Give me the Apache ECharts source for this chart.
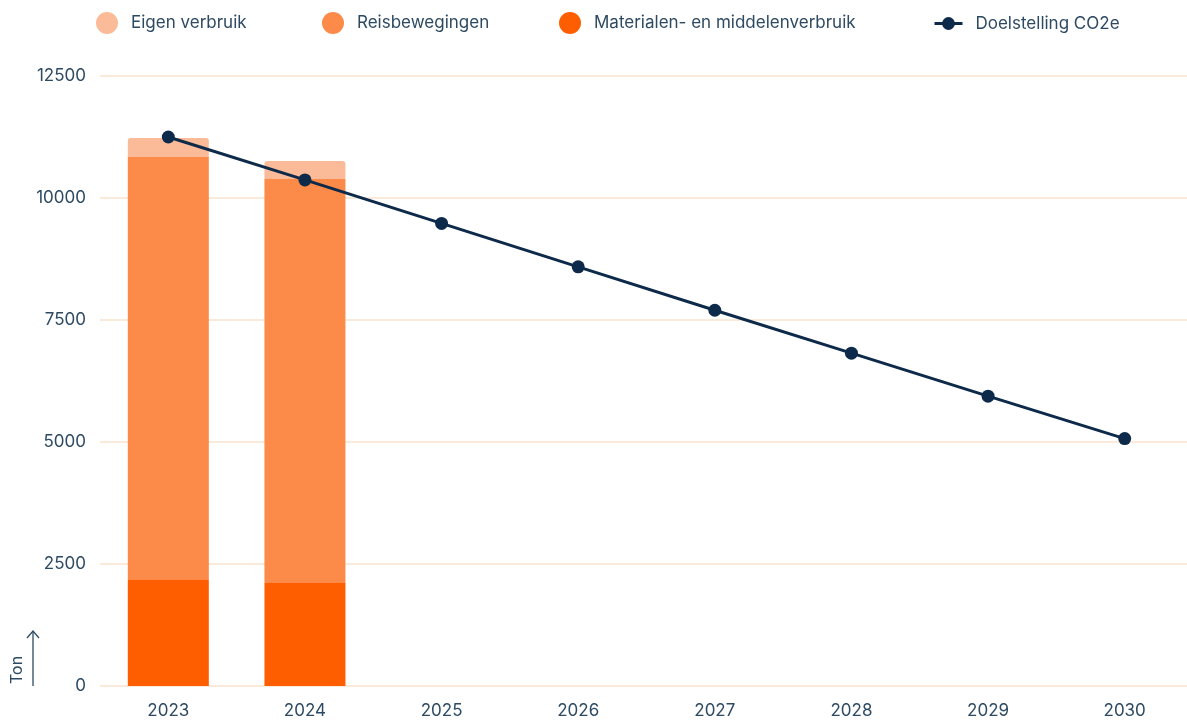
<!DOCTYPE html>
<html>
<head>
<meta charset="utf-8">
<script src="https://cdn.jsdelivr.net/npm/echarts@6/dist/echarts.min.js"></script>
<style>
  html, body { margin: 0; padding: 0; background: #fff; overflow: hidden; }
  #chart { width: 1200px; height: 720px; }
</style>
</head>
<body>
<div id="chart"></div>
<script>
const years = ['2023', '2024', '2025', '2026', '2027', '2028', '2029', '2030']
const materialen = [2190, 2110]
const reisbewegingen = [8650, 8280]
const eigenVerbruik = [390, 370]
const doelstelling = [11250, 10370, 9480, 8590, 7700, 6820, 5940, 5070]
const yTicks = [0, 2500, 5000, 7500, 10000, 12500]

const textColor = '#2d4a62'
const gridColor = '#f7e3d0'
const font = 'Inter, "Noto Sans", sans-serif'

// canvas is a bit wider than the window so the last band runs past the edge
const chart = echarts.init(document.getElementById('chart'))

const legendText = { color: textColor, fontSize: 17, fontFamily: font, padding: [0, 0, 0, 8] }

chart.setOption({
  animation: false,
  grid: { left: 100, right: 7, top: 76, bottom: 34 },
  legend: [
    { data: [{ name: 'Eigen verbruik', icon: 'circle' }], left: 91, top: 7, itemWidth: 22, itemHeight: 22, textStyle: legendText },
    { data: [{ name: 'Reisbewegingen', icon: 'circle' }], left: 317, top: 7, itemWidth: 22, itemHeight: 22, textStyle: legendText },
    { data: [{ name: 'Materialen- en middelenverbruik', icon: 'circle' }], left: 554, top: 7, itemWidth: 22, itemHeight: 22, textStyle: legendText },
    { data: ['Doelstelling CO2e'], left: 928, top: 10, itemWidth: 28, itemHeight: 16, textStyle: legendText, lineStyle: { width: 3 } }
  ],
  xAxis: {
    type: 'category',
    data: years,
    axisLine: { show: false },
    axisTick: { show: false },
    axisLabel: { color: textColor, fontSize: 17, fontFamily: font, margin: 16 }
  },
  yAxis: {
    type: 'value',
    min: yTicks[0],
    max: yTicks[yTicks.length - 1],
    interval: 2500,
    axisLine: { show: false },
    axisTick: { show: false },
    splitLine: { lineStyle: { color: gridColor, width: 1.5 } },
    axisLabel: { color: textColor, fontSize: 17, fontFamily: font, margin: 14, formatter: v => String(v) }
  },
  series: [
    {
      name: 'Materialen- en middelenverbruik',
      type: 'bar',
      stack: 'co2',
      barWidth: 81,
      itemStyle: { color: '#ff5e00' },
      data: materialen
    },
    {
      name: 'Reisbewegingen',
      type: 'bar',
      stack: 'co2',
      itemStyle: { color: '#fc8a48' },
      data: reisbewegingen
    },
    {
      name: 'Eigen verbruik',
      type: 'bar',
      stack: 'co2',
      itemStyle: { color: '#fcbb98', borderRadius: [3, 3, 0, 0] },
      data: eigenVerbruik
    },
    {
      name: 'Doelstelling CO2e',
      type: 'line',
      symbol: 'circle',
      symbolSize: 13,
      lineStyle: { color: '#0e2a4a', width: 3 },
      itemStyle: { color: '#0e2a4a' },
      data: doelstelling,
      z: 5
    }
  ],
  graphic: [
    {
      type: 'text',
      x: 9, y: 684,
      rotation: Math.PI / 2,
      style: { text: 'Ton', fill: textColor, font: '16px ' + font }
    },
    {
      type: 'line',
      shape: { x1: 33, y1: 686, x2: 33, y2: 631 },
      style: { stroke: textColor, lineWidth: 1.3 }
    },
    {
      type: 'polyline',
      shape: { points: [[27, 638], [33, 631], [39, 638]] },
      style: { stroke: textColor, lineWidth: 1.3, fill: null }
    }
  ]
})
</script>
</body>
</html>
